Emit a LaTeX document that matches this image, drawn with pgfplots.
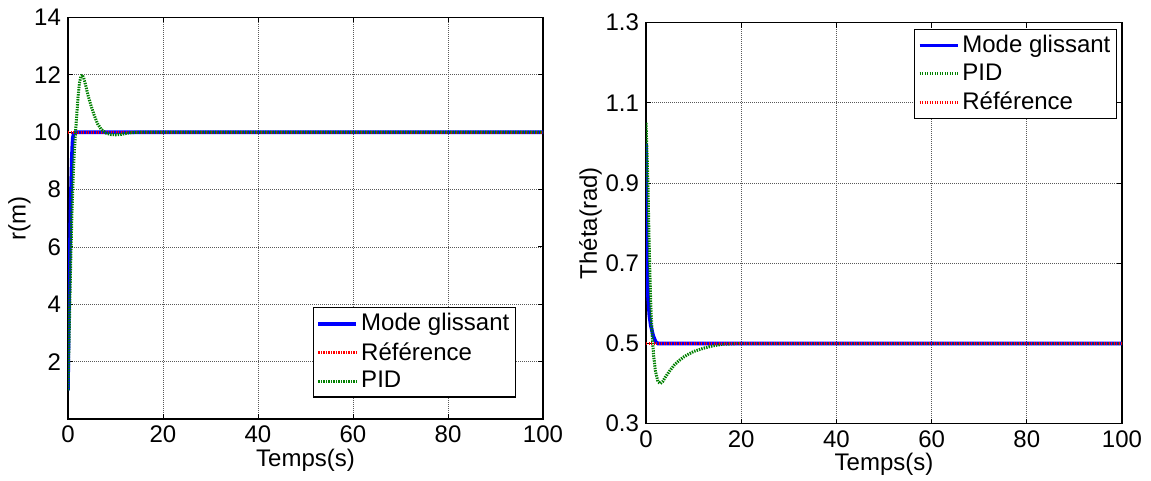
\documentclass[border=0pt]{standalone}
\usepackage{fontspec}
\setmainfont{Liberation Sans}
\usepackage{pgfplots}
\pgfplotsset{compat=1.18}
\definecolor{mblue}{RGB}{0,0,255}
\definecolor{mgreen}{RGB}{0,128,0}
\definecolor{mred}{RGB}{255,0,0}
\pgfplotsset{
  mstyle/.style={
    scale only axis,
    font=\fontsize{12}{14}\selectfont,
    /pgf/number format/assume math mode=true,
    axis line style={line width=0.7pt},
    tick style={line width=0.5pt,black},
    tick align=inside,
    major tick length=2.5pt,
    xtick={0,20,40,60,80,100},
    xmin=0,xmax=100,
    grid=major,
    major grid style={black!65,line width=0.4pt,dash pattern=on 0.5pt off 0.5pt},
    xlabel={Temps(s)},
    xlabel style={yshift=4pt},
    ylabel style={yshift=-5pt},
    legend cell align=left,
    legend style={draw=black,line width=0.6pt,fill=white,inner sep=1.5pt,
      font=\fontsize{12}{14}\selectfont,
      nodes={inner sep=1.5pt}, row sep=1.2pt},
    legend image code/.code={\draw[#1] (0pt,0pt) -- (19pt,0pt);},
  },
  sm/.style={mblue,line width=1.8pt,solid},
  pid/.style={mgreen,line width=1.5pt,dash pattern=on 0.7pt off 0.55pt},
  ref/.style={mred,line width=1.5pt,dash pattern=on 0.7pt off 0.55pt},
}
\begin{document}
\begin{tikzpicture}
\useasboundingbox (0,0) rectangle (575.5pt,-240.5pt);
\begin{axis}[mstyle,
  width=237.5pt,height=200.75pt,
  at={(34pt,-8.75pt)},anchor=north west,
  ymin=0,ymax=14,ytick={2,4,6,8,10,12,14},
  ylabel={r(m)},
  legend style={at={(0.943,0.279)},anchor=north east},
]
\addplot[sm] coordinates {(0,1) (0.1,2.5) (0.2,3.8) (0.3,5) (0.4,6) (0.5,7) (0.6,7.8) (0.7,8.5) (0.8,9.1) (0.9,9.5) (1.0,9.8) (1.2,9.95) (1.5,10) (100,10)};
\addlegendentry{Mode glissant}
\addplot[ref] coordinates {(0,10) (100,10)};
\addlegendentry{Référence}
\addplot[pid] coordinates {(0,1) (0.2,2.6) (0.4,4.2) (0.6,5.7) (0.8,7.0) (1.0,8.0) (1.2,8.9) (1.5,9.8) (1.8,10.5) (2.1,11.2) (2.4,11.7) (2.7,11.95) (3.0,12) (3.3,11.9) (3.7,11.65) (4.2,11.3) (4.8,10.95) (5.5,10.6) (6.2,10.3) (7,10.1) (8,9.97) (9,9.92) (10,9.91) (11,9.92) (12,9.95) (13,9.98) (15,10) (20,10) (100,10)};
\addlegendentry{PID}
\end{axis}
\begin{axis}[mstyle,
  width=238pt,height=200.5pt,
  at={(323pt,-11.35pt)},anchor=north west,
  ymin=0.3,ymax=1.3,ytick={0.3,0.5,0.7,0.9,1.1,1.3},
  yticklabel style={/pgf/number format/fixed,/pgf/number format/precision=1},
  ylabel={Théta(rad)},
  legend style={at={(0.9895,0.985)},anchor=north east},
]
\addplot[sm] coordinates {(0,1.0) (0.1,0.8) (0.2,0.7) (0.4,0.62) (0.7,0.57) (1.0,0.545) (1.5,0.52) (2,0.505) (2.5,0.5) (100,0.5)};
\addlegendentry{Mode glissant}
\addplot[pid] coordinates {(0,1.05) (0.2,0.98) (0.4,0.9) (0.6,0.78) (0.8,0.68) (1.0,0.6) (1.3,0.52) (1.6,0.47) (2.0,0.43) (2.5,0.405) (3,0.40) (3.5,0.405) (4,0.415) (5,0.432) (6,0.447) (7,0.458) (8,0.467) (9,0.474) (10,0.48) (12,0.488) (14,0.494) (16,0.498) (20,0.5) (100,0.5)};
\addlegendentry{PID}
\addplot[ref] coordinates {(0,0.5) (100,0.5)};
\addlegendentry{Référence}
\end{axis}
\end{tikzpicture}
\end{document}
